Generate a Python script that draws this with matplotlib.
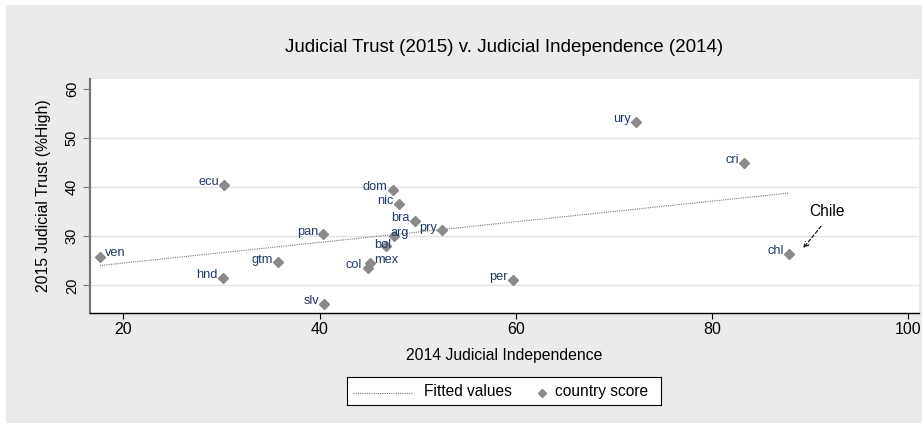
import matplotlib.pyplot as plt
import matplotlib.patches as patches
import numpy as np

plt.rcParams['font.family'] = ['Liberation Sans', 'DejaVu Sans']

# country codes with 2014 judicial independence and 2015 judicial trust
countries = ['ven', 'ecu', 'pan', 'gtm', 'hnd', 'slv', 'col', 'mex', 'dom', 'nic',
             'bra', 'pry', 'arg', 'bol', 'per', 'ury', 'cri', 'chl']
independence = [17.6, 30.3, 40.4, 35.8, 30.2, 40.5, 44.9, 45.1, 47.5, 48.1,
                49.7, 52.5, 47.6, 46.8, 59.7, 72.3, 83.3, 87.9]
trust = [25.8, 40.5, 30.4, 24.7, 21.5, 16.3, 23.5, 24.5, 39.4, 36.6,
         33.2, 31.2, 30.0, 28.0, 21.2, 53.2, 44.9, 26.4]

xticks = [20, 40, 60, 80, 100]
yticks = [20, 30, 40, 50, 60]

W, H = 922, 423

# label placement (offset in points, alignment) - default is to the left
label_pos = {'ven': (4, 2.5, 'left'), 'mex': (3.5, 2.5, 'left'),
             'arg': (4, 2.5, 'center'), 'bol': (-2.5, 1, 'center')}

fig = plt.figure(figsize=(W/100, H/100), dpi=100)
fig.patches.append(patches.Rectangle((6/W, 0), 1, 1 - 5/H, transform=fig.transFigure,
                                     facecolor='#ebebeb', edgecolor='none', zorder=-10))

ax = fig.add_axes([90/W, 1 - 312.5/H, 829/W, 233.5/H])
ax.set_facecolor('white')

x = np.array(independence)
y = np.array(trust)
b, a = np.polyfit(x, y, 1)
xs = np.array([x.min(), x.max()])
ax.plot(xs, a + b*xs, linestyle=(0, (1, 1)), color='#777777', linewidth=0.8, zorder=2)
ax.plot(x, y, linestyle='none', marker='D', markersize=5.2, color='#8a8a8a',
        markeredgecolor='#8a8a8a', zorder=3)

for c, xi, yi in zip(countries, x, y):
    dx, dy, ha = label_pos.get(c, (-4, 2, 'right'))
    ax.annotate(c, (xi, yi), xytext=(dx, dy), textcoords='offset points',
                ha=ha, va='center', fontsize=9.2, color='#1f3a68', zorder=4)

ax.annotate('Chile', xy=(89.3, 27.6), xytext=(91.7, 35.0), ha='center', va='center',
            fontsize=11.2, color='black',
            arrowprops=dict(arrowstyle='->', linestyle=(0, (3, 2)), color='black', lw=0.8,
                            relpos=(0.5, 0), shrinkA=4, shrinkB=0, mutation_scale=9))

ax.set_xlim(16.6, 101.1)
ax.set_ylim(14.5, 62.0)
ax.set_xticks(xticks)
ax.set_yticks(yticks)
for t in yticks[:-1]:
    ax.axhline(t, color='#e3e3e3', linewidth=1, zorder=0)

for s in ['top', 'right']:
    ax.spines[s].set_visible(False)
ax.spines['left'].set_color('#777777')
ax.spines['left'].set_linewidth(1.6)
ax.spines['bottom'].set_color('black')
ax.spines['bottom'].set_linewidth(1)
ax.tick_params(axis='y', labelrotation=90, labelsize=10.5, length=5, pad=3, color='#777777')
ax.tick_params(axis='x', labelsize=11.5, length=4.5, pad=2)
for lab in ax.get_yticklabels():
    lab.set_va('center')

ax.set_xlabel('2014 Judicial Independence', fontsize=11.3, labelpad=8)
ax.set_ylabel('2015 Judicial Trust (%High)', fontsize=11.3, labelpad=10)
fig.text(504/W, 1 - 48/H, 'Judicial Trust (2015) v. Judicial Independence (2014)',
         ha='center', va='center', fontsize=13.5)

# legend box, laid out like the Stata one
lax = fig.add_axes([347/W, 1 - 405/H, 314/W, 28/H])
lax.set_xlim(0, 314)
lax.set_ylim(28, 0)
lax.set_xticks([])
lax.set_yticks([])
for s in lax.spines.values():
    s.set_color('black')
    s.set_linewidth(0.8)
lax.plot([6, 66], [16, 16], linestyle=(0, (1, 1)), color='#777777', linewidth=0.8)
lax.text(77, 14, 'Fitted values', ha='left', va='center', fontsize=11.2)
lax.plot([194.7], [15.5], linestyle='none', marker='D', markersize=4.3, color='#8a8a8a')
lax.text(208, 14, 'country score', ha='left', va='center', fontsize=11.2)

fig.savefig('out.png', dpi=100)
